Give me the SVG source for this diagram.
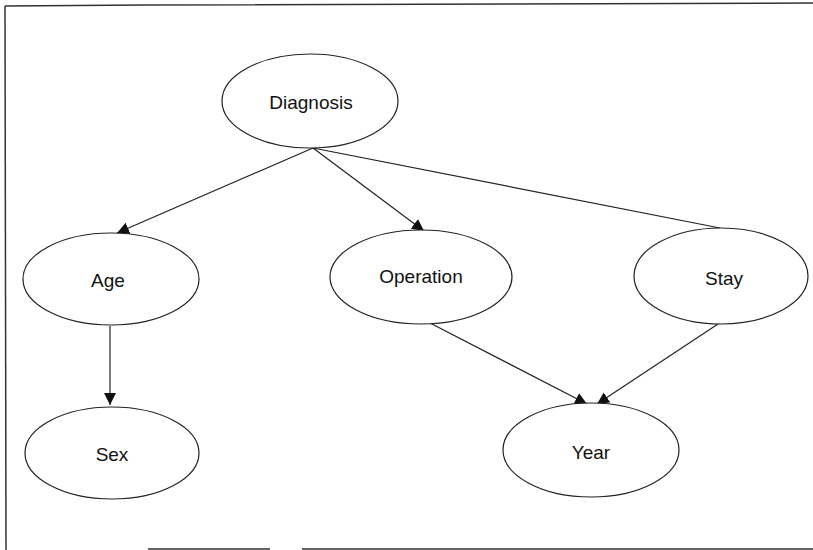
<svg xmlns="http://www.w3.org/2000/svg" width="813" height="550" viewBox="0 0 813 550">
<style>
.node ellipse{fill:#fff;stroke:#222;stroke-width:1.2}
.node text{font-family:"Liberation Sans",Arial,sans-serif;font-size:19px;fill:#111;text-anchor:middle;dominant-baseline:central}
.edge{stroke:#222;stroke-width:1.2;fill:none}
.frame{stroke:#333;stroke-width:1.5;fill:none}
</style>
<defs>
<marker id="arr" viewBox="0 0 10 10" refX="10" refY="5" markerWidth="12" markerHeight="12" markerUnits="userSpaceOnUse" orient="auto">
<path d="M0,0 L10,5 L0,10 z" fill="#111"/>
</marker>
</defs>
<rect width="813" height="550" fill="#fff"/>
<g id="frame">
<path class="frame" d="M5,6 L146,5 L813,3"/>
<path class="frame" d="M5,6 L6,550"/>
<path class="frame" d="M148,549 L270,549 M302,549 L813,549"/>
</g>
<g id="connectors">
<path class="edge" d="M313,148 L117,233" marker-end="url(#arr)"/>
<path class="edge" d="M313,148 L424,231" marker-end="url(#arr)"/>
<path class="edge" d="M313,148 L720,228"/>
<path class="edge" d="M110,326 L110,405" marker-end="url(#arr)"/>
<path class="edge" d="M430,323 L587,404" marker-end="url(#arr)"/>
<path class="edge" d="M718,324 L597,404" marker-end="url(#arr)"/>
</g>
<g id="diagnosis" class="node"><ellipse cx="310" cy="101" rx="88" ry="47"/><text x="311" y="102">Diagnosis</text></g>
<g id="age" class="node"><ellipse cx="111" cy="279" rx="88" ry="46"/><text x="108" y="280">Age</text></g>
<g id="operation" class="node"><ellipse cx="421" cy="277" rx="91" ry="47"/><text x="421" y="276">Operation</text></g>
<g id="stay" class="node"><ellipse cx="721" cy="276" rx="87" ry="48"/><text x="724" y="278">Stay</text></g>
<g id="sex" class="node"><ellipse cx="112" cy="453" rx="87" ry="46"/><text x="112" y="454">Sex</text></g>
<g id="year" class="node"><ellipse cx="591" cy="450" rx="88" ry="47"/><text x="591" y="452">Year</text></g>
</svg>
